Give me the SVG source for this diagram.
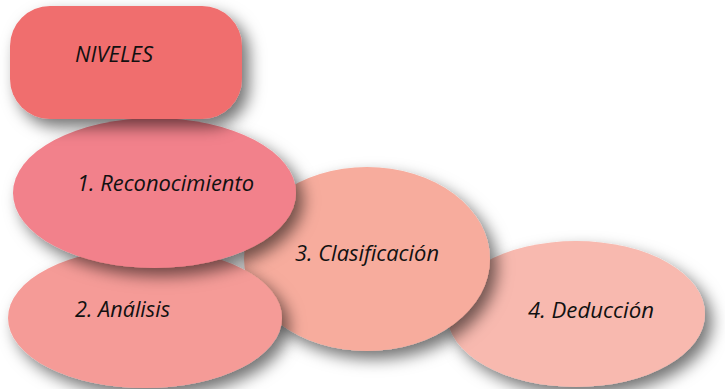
<svg xmlns="http://www.w3.org/2000/svg" width="725" height="389" viewBox="0 0 725 389">
  <defs>
    <filter id="sh" x="-20%" y="-20%" width="150%" height="150%">
      <feDropShadow dx="7" dy="8" stdDeviation="8" flood-color="#000" flood-opacity="0.55"/>
    </filter>
  </defs>
  <style>
    .lbl { font-family: "Open Sans", "Liberation Sans", sans-serif; font-style: italic; font-size: 21px; fill: #111; }
  </style>
  <rect width="725" height="389" fill="#fff"/>
  <g id="connectors"/>
  <g id="n4">
    <ellipse cx="576" cy="314" rx="129" ry="73" fill="#F8B9AF" filter="url(#sh)"/>
    <text class="lbl" x="528" y="318" textLength="126" lengthAdjust="spacingAndGlyphs">4. Deducción</text>
  </g>
  <g id="n3">
    <ellipse cx="367" cy="259" rx="123" ry="92" fill="#F7AC9D" filter="url(#sh)"/>
    <text class="lbl" x="295" y="261" textLength="144" lengthAdjust="spacingAndGlyphs">3. Clasificación</text>
  </g>
  <g id="n2">
    <ellipse cx="145" cy="318" rx="137" ry="70" fill="#F59B97" filter="url(#sh)"/>
    <text class="lbl" x="75" y="317" textLength="95" lengthAdjust="spacingAndGlyphs">2. Análisis</text>
  </g>
  <g id="n1">
    <ellipse cx="154.5" cy="193" rx="141.5" ry="75" fill="#F2818B" filter="url(#sh)"/>
    <text class="lbl" x="77" y="191" textLength="177" lengthAdjust="spacingAndGlyphs">1. Reconocimiento</text>
  </g>
  <g id="niveles">
    <rect x="10" y="6" width="232" height="113" rx="40" ry="40" fill="#F06E6E" filter="url(#sh)"/>
    <text class="lbl" x="75" y="62" textLength="78" lengthAdjust="spacingAndGlyphs">NIVELES</text>
  </g>
</svg>
